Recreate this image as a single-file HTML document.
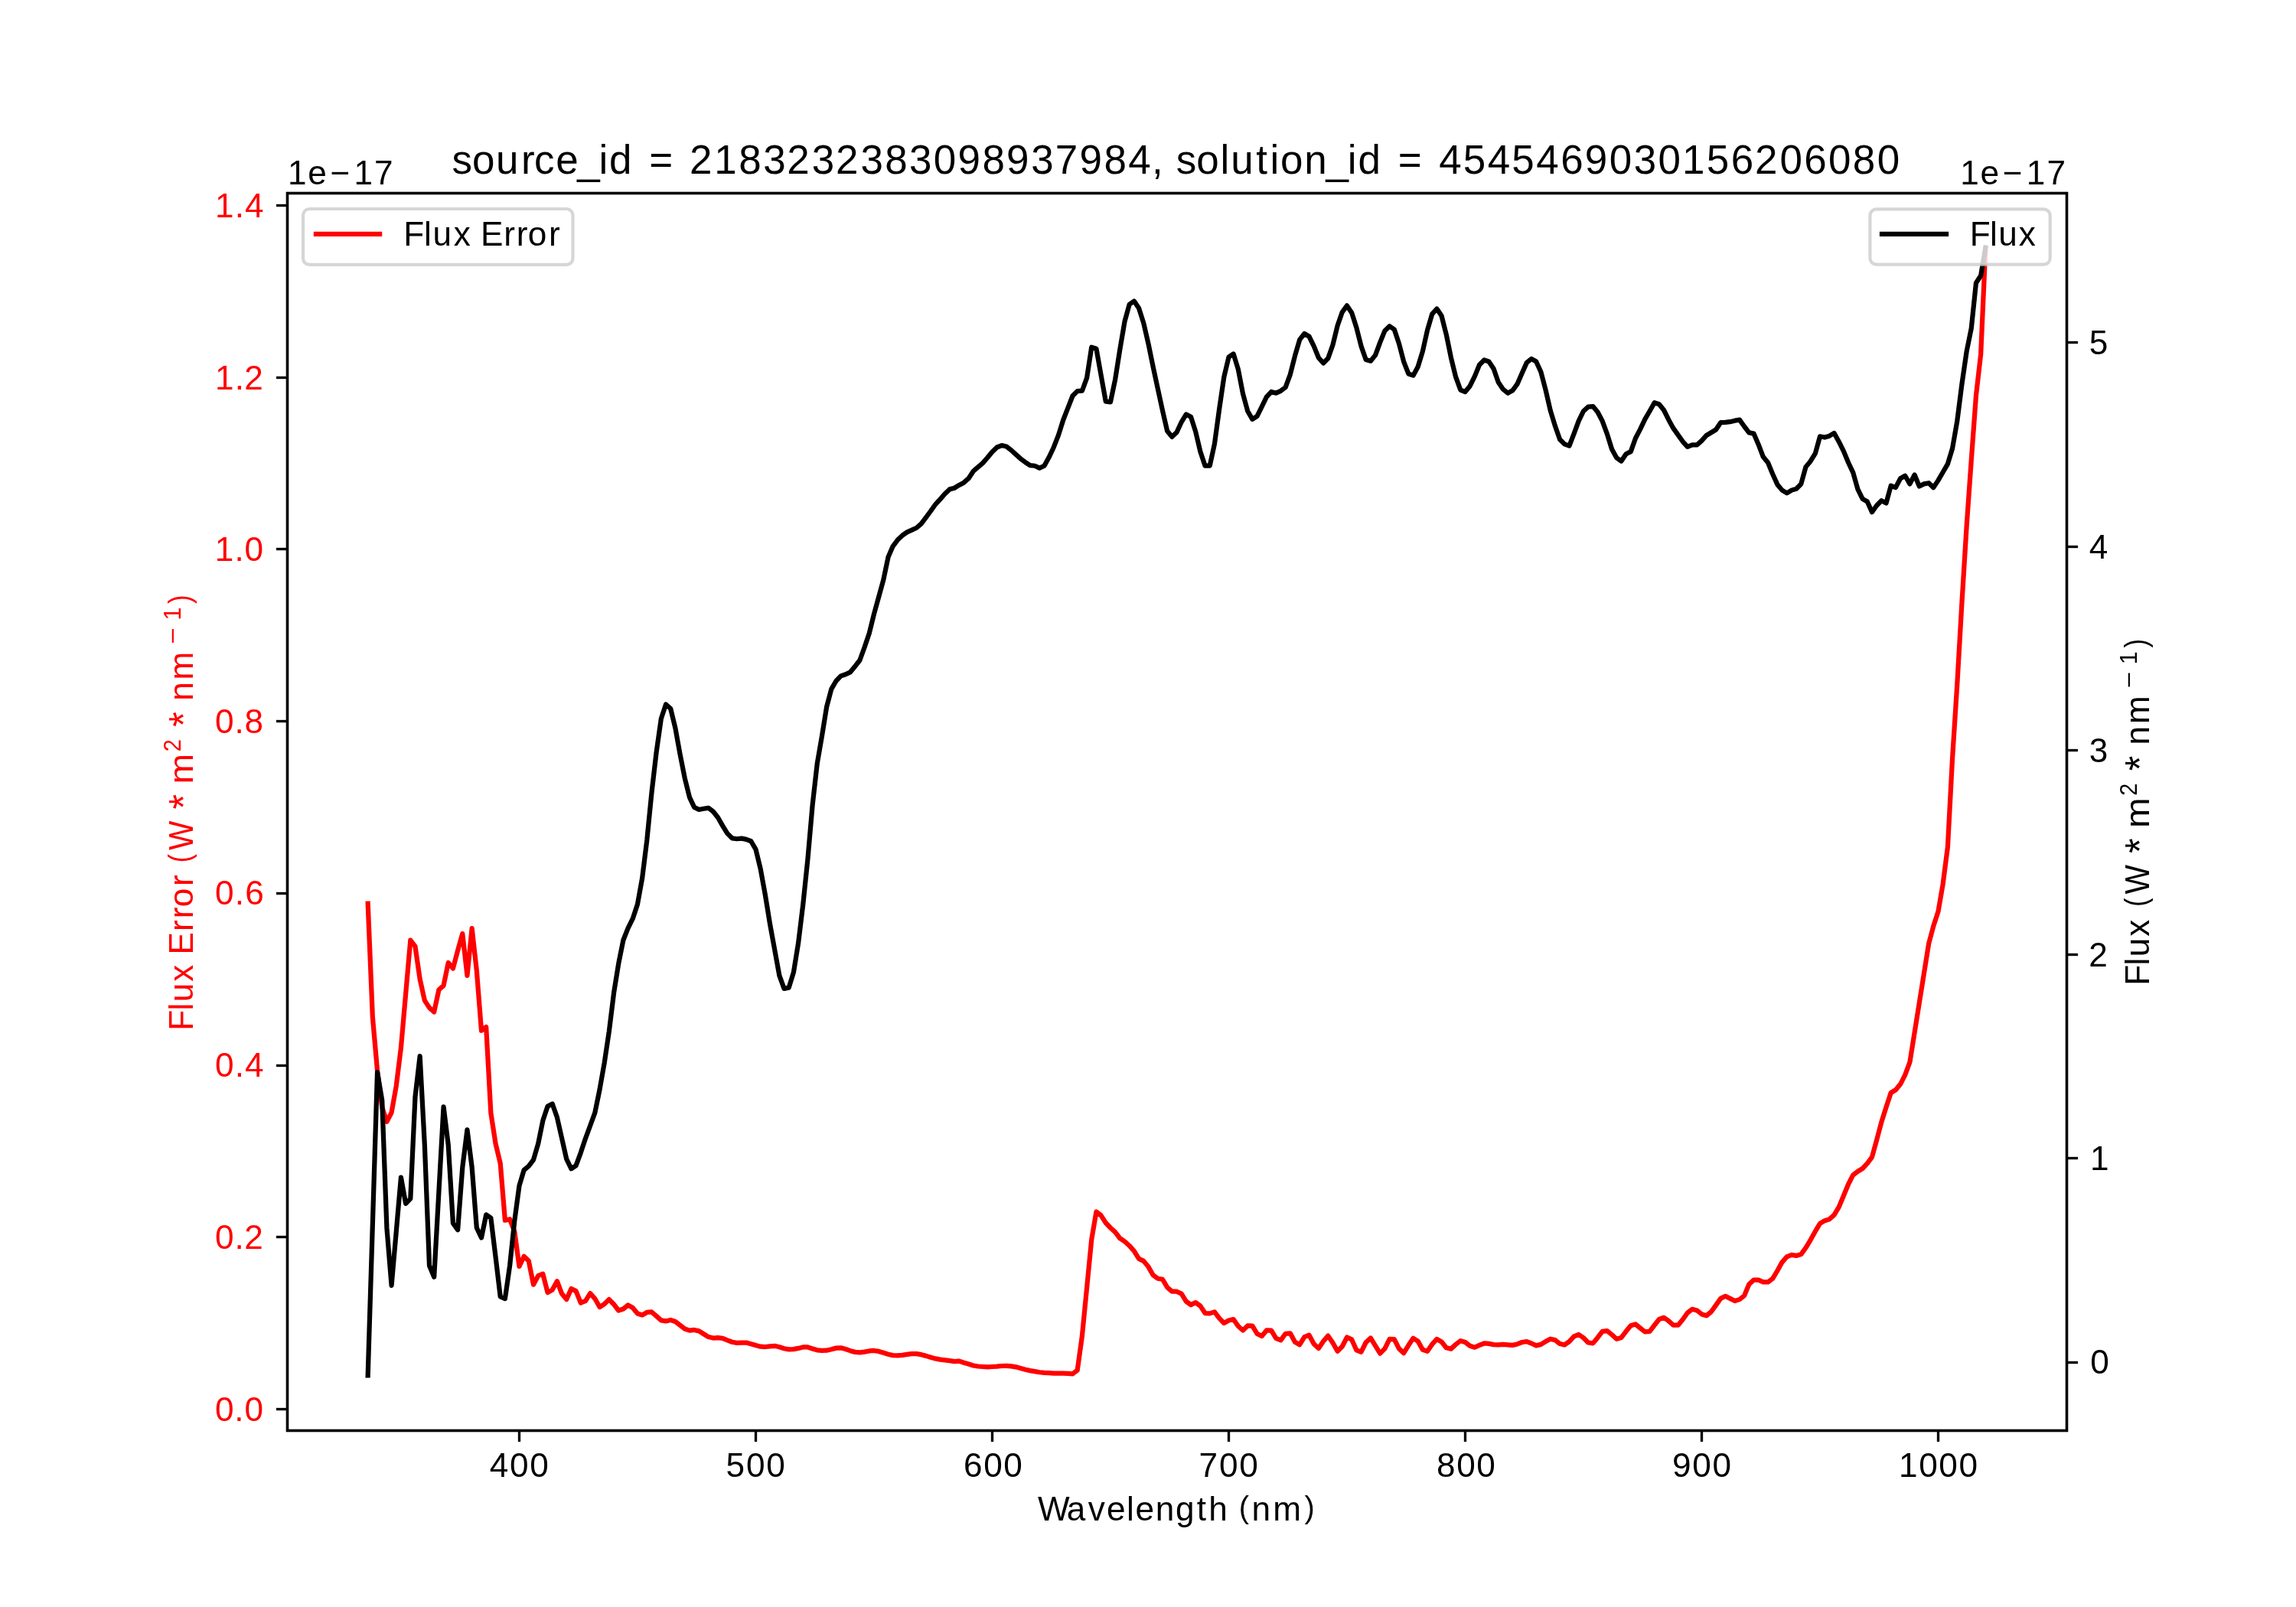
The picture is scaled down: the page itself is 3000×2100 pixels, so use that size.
<!DOCTYPE html>
<html><head><meta charset="utf-8"><title>Gaia XP spectrum</title>
<style>
html,body{margin:0;padding:0;background:#fff;}
svg{display:block;will-change:transform;}
text{font-family:"Liberation Sans",sans-serif;font-kerning:none;font-variant-ligatures:none;font-feature-settings:"kern" 0,"liga" 0;}
</style></head><body>
<svg width="3000" height="2100" viewBox="0 0 3000 2100">
<rect x="0" y="0" width="3000" height="2100" fill="#fff"/>
<polyline points="480.68,1180.72 486.86,1329.32 493.04,1399.04 499.22,1446.85 505.40,1465.78 511.58,1453.82 517.76,1418.96 523.94,1369.16 530.12,1298.94 536.30,1228.73 542.48,1236.69 548.66,1279.52 554.84,1307.41 561.02,1316.86 567.20,1322.46 573.39,1293.52 579.57,1287.92 585.75,1258.04 591.93,1265.51 598.11,1242.17 604.29,1220.13 610.47,1274.85 616.65,1213.22 622.83,1268.31 629.01,1346.74 635.19,1342.07 641.37,1454.51 647.55,1494.56 653.73,1520.31 659.91,1594.71 666.09,1593.28 672.27,1609.01 678.45,1654.79 684.63,1641.81 690.81,1647.78 696.99,1678.65 703.17,1667.20 709.35,1664.71 715.53,1689.10 721.71,1685.61 727.89,1674.17 734.07,1690.59 740.25,1698.06 746.43,1684.12 752.61,1687.11 758.79,1702.54 764.97,1700.05 771.15,1690.09 777.33,1697.06 783.51,1708.01 789.69,1704.03 795.87,1698.06 802.05,1704.53 808.23,1712.49 814.41,1710.50 820.59,1705.53 826.77,1709.01 832.95,1716.48 839.13,1718.47 845.31,1714.98 851.50,1714.48 857.68,1719.96 863.86,1725.44 870.04,1726.43 876.22,1724.94 882.40,1726.95 888.58,1731.74 894.76,1736.54 900.94,1738.64 907.12,1737.97 913.30,1739.41 919.48,1743.24 925.66,1747.08 931.84,1748.51 938.02,1748.23 944.20,1748.80 950.38,1751.39 956.56,1753.78 962.74,1754.93 968.92,1754.74 975.10,1754.55 981.28,1756.18 987.46,1758.10 993.64,1759.72 999.82,1760.01 1006.00,1759.34 1012.18,1758.77 1018.36,1760.30 1024.54,1762.22 1030.72,1763.37 1036.90,1763.17 1043.08,1761.93 1049.26,1760.49 1055.44,1760.49 1061.62,1762.41 1067.80,1764.32 1073.98,1764.80 1080.16,1764.68 1086.34,1763.24 1092.52,1761.61 1098.70,1761.33 1104.88,1763.05 1111.06,1765.16 1117.24,1766.88 1123.43,1767.27 1129.61,1766.60 1135.79,1765.45 1141.97,1764.97 1148.15,1765.93 1154.33,1767.84 1160.51,1769.76 1166.69,1771.10 1172.87,1771.39 1179.05,1770.91 1185.23,1769.95 1191.41,1769.18 1197.59,1769.18 1203.77,1770.14 1209.95,1771.87 1216.13,1773.78 1222.31,1775.41 1228.49,1776.66 1234.67,1777.42 1240.85,1778.10 1247.03,1779.05 1253.21,1778.60 1259.39,1780.80 1265.57,1782.60 1271.75,1784.50 1277.93,1785.50 1284.11,1786.00 1290.29,1786.40 1296.47,1786.00 1302.65,1785.60 1308.83,1785.00 1315.01,1784.90 1321.19,1785.30 1327.37,1786.30 1333.55,1788.00 1339.73,1789.70 1345.91,1791.10 1352.09,1792.13 1358.27,1793.26 1364.45,1793.90 1370.63,1794.23 1376.81,1794.55 1382.99,1794.55 1389.17,1794.71 1395.35,1794.88 1401.54,1795.36 1407.72,1790.51 1413.90,1746.02 1420.08,1682.94 1426.26,1619.85 1432.44,1583.46 1438.62,1588.31 1444.80,1598.01 1450.98,1604.48 1457.16,1610.15 1463.34,1618.23 1469.52,1622.28 1475.70,1627.94 1481.88,1634.93 1488.06,1644.89 1494.24,1647.87 1500.42,1655.34 1506.60,1666.29 1512.78,1670.77 1518.96,1671.77 1525.14,1682.22 1531.32,1687.70 1537.50,1687.70 1543.68,1690.68 1549.86,1700.64 1556.04,1705.12 1562.22,1702.13 1568.40,1706.61 1574.58,1716.07 1580.76,1716.37 1586.94,1714.38 1593.12,1722.54 1599.30,1729.01 1605.48,1725.53 1611.66,1724.03 1617.84,1732.99 1624.02,1738.47 1630.20,1732.49 1636.38,1732.69 1642.56,1742.95 1648.74,1745.93 1654.92,1738.47 1661.10,1738.67 1667.28,1748.92 1673.46,1751.41 1679.65,1742.76 1685.83,1742.28 1692.01,1753.78 1698.19,1757.14 1704.37,1747.08 1710.55,1744.68 1716.73,1756.18 1722.91,1761.93 1729.09,1752.82 1735.27,1745.64 1741.45,1754.74 1747.63,1765.76 1753.81,1759.53 1759.99,1747.55 1766.17,1750.43 1772.35,1764.32 1778.53,1766.72 1784.71,1754.26 1790.89,1748.51 1797.07,1758.57 1803.25,1768.64 1809.43,1762.41 1815.61,1749.76 1821.79,1750.14 1827.97,1762.41 1834.15,1768.16 1840.33,1758.10 1846.51,1748.80 1852.69,1752.63 1858.87,1763.84 1865.05,1765.76 1871.23,1756.66 1877.41,1749.95 1883.59,1753.55 1889.77,1761.22 1895.95,1762.65 1902.13,1756.90 1908.31,1752.11 1914.49,1754.03 1920.67,1758.82 1926.85,1760.74 1933.03,1757.86 1939.21,1755.47 1945.39,1755.94 1951.57,1757.09 1957.76,1757.38 1963.94,1756.90 1970.12,1757.38 1976.30,1757.86 1982.48,1756.42 1988.66,1754.03 1994.84,1753.07 2001.02,1755.47 2007.20,1758.34 2013.38,1756.90 2019.56,1753.07 2025.74,1749.72 2031.92,1751.15 2038.10,1755.94 2044.28,1757.38 2050.46,1753.07 2056.64,1746.36 2062.82,1743.97 2069.00,1748.28 2075.18,1754.51 2081.36,1755.37 2087.54,1747.90 2093.72,1739.82 2099.90,1739.19 2106.08,1744.17 2112.26,1749.77 2118.44,1747.90 2124.62,1739.82 2130.80,1732.35 2136.98,1730.48 2143.16,1735.46 2149.34,1740.44 2155.52,1739.82 2161.70,1731.73 2167.88,1724.01 2174.06,1721.77 2180.24,1726.13 2186.42,1731.73 2192.60,1731.73 2198.78,1724.26 2204.96,1715.55 2211.14,1710.82 2217.32,1712.44 2223.50,1717.42 2229.69,1719.28 2235.87,1714.31 2242.05,1705.59 2248.23,1696.88 2254.41,1693.77 2260.59,1696.88 2266.77,1700.00 2272.95,1698.13 2279.13,1693.18 2285.31,1678.24 2291.49,1672.64 2297.67,1672.64 2303.85,1675.44 2310.03,1675.44 2316.21,1670.77 2322.39,1660.50 2328.57,1649.30 2334.75,1642.39 2340.93,1639.96 2347.11,1640.90 2353.29,1639.03 2359.47,1630.63 2365.65,1620.35 2371.83,1609.15 2378.01,1598.88 2384.19,1595.14 2390.37,1593.28 2396.55,1587.68 2402.73,1577.40 2408.91,1562.46 2415.09,1547.53 2421.27,1535.39 2427.45,1530.72 2433.63,1526.98 2439.81,1520.45 2445.99,1512.04 2452.17,1489.64 2458.35,1466.29 2464.53,1446.69 2470.71,1428.01 2476.89,1424.28 2483.07,1416.81 2489.25,1404.67 2495.43,1388.00 2501.61,1349.25 2507.80,1310.50 2513.98,1271.75 2520.16,1233.00 2526.34,1210.00 2532.52,1191.00 2538.70,1155.00 2544.88,1107.00 2551.06,991.00 2557.24,895.00 2563.42,788.00 2569.60,688.00 2575.78,601.00 2581.96,517.00 2588.14,463.00 2594.32,325.00" fill="none" stroke="#ff0000" stroke-width="6.25" stroke-linejoin="round" stroke-linecap="square"/>
<rect x="375.5" y="252.5" width="2325" height="1617" fill="none" stroke="#000" stroke-width="3.333" stroke-linejoin="miter"/>
<line x1="678.50" y1="1869.5" x2="678.50" y2="1884.08" stroke="#000" stroke-width="3.333"/>
<line x1="987.50" y1="1869.5" x2="987.50" y2="1884.08" stroke="#000" stroke-width="3.333"/>
<line x1="1296.50" y1="1869.5" x2="1296.50" y2="1884.08" stroke="#000" stroke-width="3.333"/>
<line x1="1605.50" y1="1869.5" x2="1605.50" y2="1884.08" stroke="#000" stroke-width="3.333"/>
<line x1="1914.50" y1="1869.5" x2="1914.50" y2="1884.08" stroke="#000" stroke-width="3.333"/>
<line x1="2223.50" y1="1869.5" x2="2223.50" y2="1884.08" stroke="#000" stroke-width="3.333"/>
<line x1="2532.50" y1="1869.5" x2="2532.50" y2="1884.08" stroke="#000" stroke-width="3.333"/>
<text x="639.82 666.08 692.33" y="1929.50" font-size="44.15" fill="#000">400</text>
<text x="948.52 974.99 1001.30" y="1929.50" font-size="44.15" fill="#000">500</text>
<text x="1258.94 1285.14 1311.35" y="1929.50" font-size="44.15" fill="#000">600</text>
<text x="1566.42 1592.89 1619.27" y="1929.50" font-size="44.15" fill="#000">700</text>
<text x="1877.01 1903.18 1929.36" y="1929.50" font-size="44.15" fill="#000">800</text>
<text x="2185.05 2211.28 2237.39" y="1929.50" font-size="44.15" fill="#000">900</text>
<text x="2481.01 2507.30 2533.35 2559.40" y="1929.50" font-size="44.15" fill="#000">1000</text>
<line x1="360.92" y1="1841.50" x2="375.5" y2="1841.50" stroke="#000" stroke-width="3.333"/>
<line x1="360.92" y1="1616.50" x2="375.5" y2="1616.50" stroke="#000" stroke-width="3.333"/>
<line x1="360.92" y1="1392.50" x2="375.5" y2="1392.50" stroke="#000" stroke-width="3.333"/>
<line x1="360.92" y1="1167.50" x2="375.5" y2="1167.50" stroke="#000" stroke-width="3.333"/>
<line x1="360.92" y1="942.50" x2="375.5" y2="942.50" stroke="#000" stroke-width="3.333"/>
<line x1="360.92" y1="717.50" x2="375.5" y2="717.50" stroke="#000" stroke-width="3.333"/>
<line x1="360.92" y1="493.50" x2="375.5" y2="493.50" stroke="#000" stroke-width="3.333"/>
<line x1="360.92" y1="268.50" x2="375.5" y2="268.50" stroke="#000" stroke-width="3.333"/>
<text x="280.92 306.36 319.53" y="1856.50" font-size="44.15" fill="#ff0000">0.0</text>
<text x="280.98 306.54 319.30" y="1631.50" font-size="44.15" fill="#ff0000">0.2</text>
<text x="281.02 306.65 320.01" y="1406.50" font-size="44.15" fill="#ff0000">0.4</text>
<text x="281.07 306.79 320.24" y="1181.50" font-size="44.15" fill="#ff0000">0.6</text>
<text x="280.93 306.40 319.59" y="957.50" font-size="44.15" fill="#ff0000">0.8</text>
<text x="280.87 306.47 319.57" y="732.50" font-size="44.15" fill="#ff0000">1.0</text>
<text x="280.92 306.65 319.33" y="508.50" font-size="44.15" fill="#ff0000">1.2</text>
<text x="280.96 306.75 320.05" y="283.50" font-size="44.15" fill="#ff0000">1.4</text>
<text x="376.00 402.23 431.61 462.51 489.00" y="240.60" font-size="44.15" fill="#000">1e−17</text>
<g transform="translate(252,1341) rotate(-90)">
<text x="-5.78 20.49 31.82 58.32" y="0.00" font-size="44.15" fill="#ff0000">Flux</text>
<text x="93.56 123.99 140.66 155.66 183.06" y="0.00" font-size="44.15" fill="#ff0000">Error</text>
<text x="213.82" y="-2.80" font-size="39.80" textLength="11.18" lengthAdjust="spacingAndGlyphs" fill="#ff0000">(</text>
<text x="230.02" y="0.00" font-size="44.15" textLength="38.42" lengthAdjust="spacingAndGlyphs" fill="#ff0000">W</text>
<text x="283.59" y="5.50" font-size="54.00" textLength="19.60" lengthAdjust="spacingAndGlyphs" fill="#ff0000">*</text>
<text x="316.63" y="0.00" font-size="44.15" textLength="39.71" lengthAdjust="spacingAndGlyphs" fill="#ff0000">m</text>
<text x="358.74" y="-16.00" font-size="30.91" textLength="16.11" lengthAdjust="spacingAndGlyphs" fill="#ff0000">2</text>
<text x="391.29" y="5.50" font-size="54.00" textLength="19.60" lengthAdjust="spacingAndGlyphs" fill="#ff0000">*</text>
<text x="425.15 452.63" y="0.00" font-size="44.15" fill="#ff0000">nm</text>
<text x="499.08" y="-16.00" font-size="30.91" textLength="21.52" lengthAdjust="spacingAndGlyphs" fill="#ff0000">−</text>
<text x="530.47" y="-16.00" font-size="30.91" textLength="17.03" lengthAdjust="spacingAndGlyphs" fill="#ff0000">1</text>
<text x="552.09" y="-2.80" font-size="39.80" textLength="11.68" lengthAdjust="spacingAndGlyphs" fill="#ff0000">)</text>
</g>
<rect x="396" y="273" width="352.5" height="72.89999999999998" rx="8.33" ry="8.33" fill="#fff" fill-opacity="0.8" stroke="#cccccc" stroke-opacity="0.8" stroke-width="4.17"/>
<line x1="412.9" y1="305.9" x2="496.1" y2="305.9" stroke="#ff0000" stroke-width="6.25" stroke-linecap="square"/>
<text x="527.30 553.90 565.61 592.63 616.75 627.99 658.26 674.81 689.67 716.91" y="321.00" font-size="44.15" fill="#000">Flux Error</text>
<polyline points="480.68,1797.37 486.86,1599.27 493.04,1401.17 499.22,1437.72 505.40,1604.39 511.58,1679.82 517.76,1609.21 523.94,1538.60 530.12,1572.81 536.30,1566.37 542.48,1433.33 548.66,1380.12 554.84,1496.20 561.02,1654.09 567.20,1668.71 573.39,1557.60 579.57,1446.49 585.75,1496.20 591.93,1598.54 598.11,1607.31 604.29,1525.44 610.47,1476.32 616.65,1525.44 622.83,1604.39 629.01,1617.54 635.19,1587.43 641.37,1591.52 647.55,1642.40 653.73,1694.44 659.91,1697.08 666.09,1654.09 672.27,1595.61 678.45,1549.71 684.63,1528.99 690.81,1523.95 696.99,1515.55 703.17,1494.54 709.35,1464.29 715.53,1445.80 721.71,1442.44 727.89,1460.08 734.07,1487.39 740.25,1514.71 746.43,1527.31 752.61,1523.11 758.79,1506.30 764.97,1487.82 771.15,1471.01 777.33,1454.20 783.51,1424.00 789.69,1389.00 795.87,1347.60 802.05,1297.60 808.23,1259.20 814.41,1228.48 820.59,1212.92 826.77,1200.47 832.95,1181.80 839.13,1147.58 845.31,1097.80 851.50,1035.57 857.68,982.68 863.86,939.12 870.04,920.45 876.22,926.05 882.40,951.56 888.58,985.79 894.76,1016.90 900.94,1041.79 907.12,1054.86 913.30,1057.97 919.48,1056.73 925.66,1055.79 931.84,1060.46 938.02,1068.24 944.20,1079.13 950.38,1089.09 956.56,1095.31 962.74,1096.24 968.92,1095.62 975.10,1096.86 981.28,1099.26 987.46,1109.84 993.64,1135.24 999.82,1169.10 1006.00,1207.20 1012.18,1241.06 1018.36,1274.92 1024.54,1291.85 1030.72,1290.58 1036.90,1270.69 1043.08,1232.59 1049.26,1181.80 1055.44,1122.54 1061.62,1052.00 1067.80,997.50 1073.98,961.69 1080.16,923.60 1086.34,900.32 1092.52,889.74 1098.70,883.39 1104.88,881.27 1111.06,878.31 1117.24,870.69 1123.43,862.79 1129.61,845.80 1135.79,827.50 1141.97,802.50 1148.15,780.10 1154.33,757.70 1160.51,728.04 1166.69,713.85 1172.87,705.58 1179.05,699.67 1185.23,695.41 1191.41,692.58 1197.59,689.74 1203.77,684.30 1209.95,676.03 1216.13,667.75 1222.31,659.01 1228.49,652.39 1234.67,645.30 1240.85,639.39 1247.03,637.73 1253.21,633.95 1259.39,630.64 1265.57,625.20 1271.75,615.74 1277.93,610.31 1284.11,605.11 1290.29,598.01 1296.47,590.45 1302.65,584.48 1308.83,582.05 1315.01,583.55 1321.19,588.22 1327.37,593.82 1333.55,599.42 1339.73,604.09 1345.91,608.20 1352.09,608.76 1358.27,611.56 1364.45,608.76 1370.63,597.55 1376.81,584.48 1382.99,568.61 1389.17,549.00 1395.35,533.13 1401.54,517.25 1407.72,511.09 1413.90,510.72 1420.08,493.91 1426.26,453.76 1432.44,455.63 1438.62,490.18 1444.80,524.72 1450.98,525.28 1457.16,495.78 1463.34,456.56 1469.52,420.15 1475.70,397.74 1481.88,393.53 1488.06,402.77 1494.24,422.10 1500.42,448.99 1506.60,479.24 1512.78,507.82 1518.96,536.39 1525.14,563.28 1531.32,570.84 1537.50,564.96 1543.68,551.51 1549.86,541.43 1556.04,544.79 1562.22,564.12 1568.40,590.17 1574.58,608.66 1580.76,608.66 1586.94,580.08 1593.12,534.71 1599.30,492.69 1605.48,466.64 1611.66,462.44 1617.84,482.61 1624.02,514.54 1630.20,537.23 1636.38,547.82 1642.56,543.95 1648.74,531.34 1654.92,518.74 1661.10,512.02 1667.28,513.70 1673.46,510.84 1679.65,506.13 1685.83,489.33 1692.01,464.96 1698.19,443.95 1704.37,435.88 1710.55,439.75 1716.73,452.35 1722.91,467.48 1729.09,474.54 1735.27,468.32 1741.45,450.67 1747.63,425.46 1753.81,407.82 1759.99,399.41 1766.17,408.66 1772.35,427.98 1778.53,452.35 1784.71,470.00 1790.89,471.68 1797.07,464.12 1803.25,447.31 1809.43,432.18 1815.61,426.30 1821.79,430.50 1827.97,448.99 1834.15,472.52 1840.33,488.49 1846.51,490.67 1852.69,479.24 1858.87,459.08 1865.05,431.34 1871.23,410.34 1877.41,403.61 1883.59,412.86 1889.77,437.23 1895.95,467.48 1902.13,492.69 1908.31,509.50 1914.49,512.02 1920.67,504.45 1926.85,491.85 1933.03,476.72 1939.21,470.50 1945.39,472.52 1951.57,481.76 1957.76,499.41 1963.94,508.66 1970.12,513.70 1976.30,510.34 1982.48,501.93 1988.66,487.65 1994.84,473.87 2001.02,468.82 2007.20,472.52 2013.38,485.97 2019.56,509.50 2025.74,536.39 2031.92,556.55 2038.10,574.20 2044.28,580.42 2050.46,582.61 2056.64,566.64 2062.82,549.83 2069.00,537.23 2075.18,531.68 2081.36,531.02 2087.54,538.49 2093.72,550.31 2099.90,567.11 2106.08,587.02 2112.26,598.22 2118.44,602.57 2124.62,593.24 2130.80,590.13 2136.98,572.71 2143.16,560.89 2149.34,547.82 2155.52,537.24 2161.70,526.29 2167.88,528.28 2174.06,536.00 2180.24,548.44 2186.42,559.64 2192.60,568.35 2198.78,577.06 2204.96,583.91 2211.14,581.42 2217.32,581.42 2223.50,575.82 2229.69,568.97 2235.87,565.24 2242.05,561.51 2248.23,552.18 2254.41,551.93 2260.59,551.18 2266.77,549.69 2272.95,548.69 2279.13,557.24 2285.31,565.33 2291.49,566.58 2297.67,580.89 2303.85,597.06 2310.03,604.53 2316.21,619.46 2322.39,633.15 2328.57,640.62 2334.75,644.35 2340.93,640.62 2347.11,638.75 2353.29,632.53 2359.47,610.13 2365.65,602.66 2371.83,592.71 2378.01,570.31 2384.19,571.55 2390.37,569.69 2396.55,565.95 2402.73,577.15 2408.91,589.60 2415.09,604.53 2421.27,617.60 2427.45,639.37 2433.63,651.82 2439.81,655.55 2445.99,669.24 2452.17,660.53 2458.35,654.31 2464.53,657.42 2470.71,634.75 2476.89,637.12 2483.07,625.29 2489.25,621.74 2495.43,632.39 2501.61,620.56 2507.80,635.46 2513.98,632.39 2520.16,631.20 2526.34,637.12 2532.52,627.66 2538.70,617.01 2544.88,606.36 2551.06,586.00 2557.24,550.50 2563.42,502.00 2569.60,459.50 2575.78,428.93 2581.96,369.79 2588.14,360.33 2594.32,323.66" fill="none" stroke="#000" stroke-width="6.25" stroke-linejoin="round" stroke-linecap="square"/>
<rect x="375.5" y="252.5" width="2325" height="1617" fill="none" stroke="#000" stroke-width="3.333" stroke-linejoin="miter"/>
<line x1="2700.5" y1="1780.50" x2="2715.08" y2="1780.50" stroke="#000" stroke-width="3.333"/>
<line x1="2700.5" y1="1513.50" x2="2715.08" y2="1513.50" stroke="#000" stroke-width="3.333"/>
<line x1="2700.5" y1="1247.50" x2="2715.08" y2="1247.50" stroke="#000" stroke-width="3.333"/>
<line x1="2700.5" y1="980.50" x2="2715.08" y2="980.50" stroke="#000" stroke-width="3.333"/>
<line x1="2700.5" y1="714.50" x2="2715.08" y2="714.50" stroke="#000" stroke-width="3.333"/>
<line x1="2700.5" y1="447.50" x2="2715.08" y2="447.50" stroke="#000" stroke-width="3.333"/>
<text x="2731.22" y="1795.30" font-size="44.15" fill="#000">0</text>
<text x="2731.12" y="1529.30" font-size="44.15" fill="#000">1</text>
<text x="2729.22" y="1263.30" font-size="44.15" fill="#000">2</text>
<text x="2729.85" y="996.30" font-size="44.15" fill="#000">3</text>
<text x="2729.86" y="730.30" font-size="44.15" fill="#000">4</text>
<text x="2729.77" y="463.30" font-size="44.15" fill="#000">5</text>
<text x="2561.13 2587.41 2616.86 2647.83 2674.38" y="240.50" font-size="44.15" fill="#000">1e−17</text>
<g transform="translate(2808,1282) rotate(-90)">
<text x="-5.80 20.43 31.71 58.15" y="0.00" font-size="44.15" fill="#000">Flux</text>
<text x="97.22" y="-2.80" font-size="39.80" textLength="11.18" lengthAdjust="spacingAndGlyphs" fill="#000">(</text>
<text x="113.42" y="0.00" font-size="44.15" textLength="38.42" lengthAdjust="spacingAndGlyphs" fill="#000">W</text>
<text x="166.99" y="5.50" font-size="54.00" textLength="19.60" lengthAdjust="spacingAndGlyphs" fill="#000">*</text>
<text x="200.03" y="0.00" font-size="44.15" textLength="39.71" lengthAdjust="spacingAndGlyphs" fill="#000">m</text>
<text x="242.14" y="-16.00" font-size="30.91" textLength="16.11" lengthAdjust="spacingAndGlyphs" fill="#000">2</text>
<text x="274.69" y="5.50" font-size="54.00" textLength="19.60" lengthAdjust="spacingAndGlyphs" fill="#000">*</text>
<text x="308.55 336.03" y="0.00" font-size="44.15" fill="#000">nm</text>
<text x="382.48" y="-16.00" font-size="30.91" textLength="21.52" lengthAdjust="spacingAndGlyphs" fill="#000">−</text>
<text x="413.87" y="-16.00" font-size="30.91" textLength="17.03" lengthAdjust="spacingAndGlyphs" fill="#000">1</text>
<text x="435.49" y="-2.80" font-size="39.80" textLength="11.68" lengthAdjust="spacingAndGlyphs" fill="#000">)</text>
</g>
<rect x="2443.4" y="273.3" width="235.30" height="72.40" rx="8.33" ry="8.33" fill="#fff" fill-opacity="0.8" stroke="#cccccc" stroke-opacity="0.8" stroke-width="4.17"/>
<line x1="2459.0" y1="305.9" x2="2543.0" y2="305.9" stroke="#000" stroke-width="6.25" stroke-linecap="square"/>
<text x="2573.64 2599.92 2611.28 2637.81" y="321.30" font-size="44.15" fill="#000">Flux</text>
<text x="590.42 616.91 647.93 681.01 697.96 726.30 754.18 782.39 796.03 827.51 848.31 885.29 901.10 933.29 965.37 997.25 1028.33 1060.86 1091.94 1124.48 1156.22 1188.09 1219.83 1251.48 1283.45 1315.09 1347.13 1378.77 1410.52 1442.48 1474.29 1505.01 1521.41 1536.85 1563.34 1594.41 1608.24 1641.23 1659.61 1672.99 1704.22 1732.56 1760.77 1774.42 1805.90 1826.69 1863.68 1880.14 1911.76 1943.75 1975.37 2007.37 2039.18 2070.83 2102.79 2134.67 2166.41 2197.94 2229.83 2261.83 2292.98 2325.44 2357.25 2389.06 2420.86 2452.67" y="227.30" font-size="52.98" fill="#000">source_id = 2183232383098937984, solution_id = 4545469030156206080</text>
<text font-size="44.15" fill="#000"><tspan x="1355.89 1393.77 1421.85 1446.00 1472.01 1483.44 1509.64 1535.89 1563.70 1579.20 1605.27" y="1986.70">Wavelength </tspan><tspan x="1618.63" y="1983.95" font-size="39.80">(</tspan><tspan x="1635.53 1663.15" y="1986.70">nm</tspan><tspan x="1704.39" y="1983.95" font-size="39.80">)</tspan></text>
</svg>
</body></html>
